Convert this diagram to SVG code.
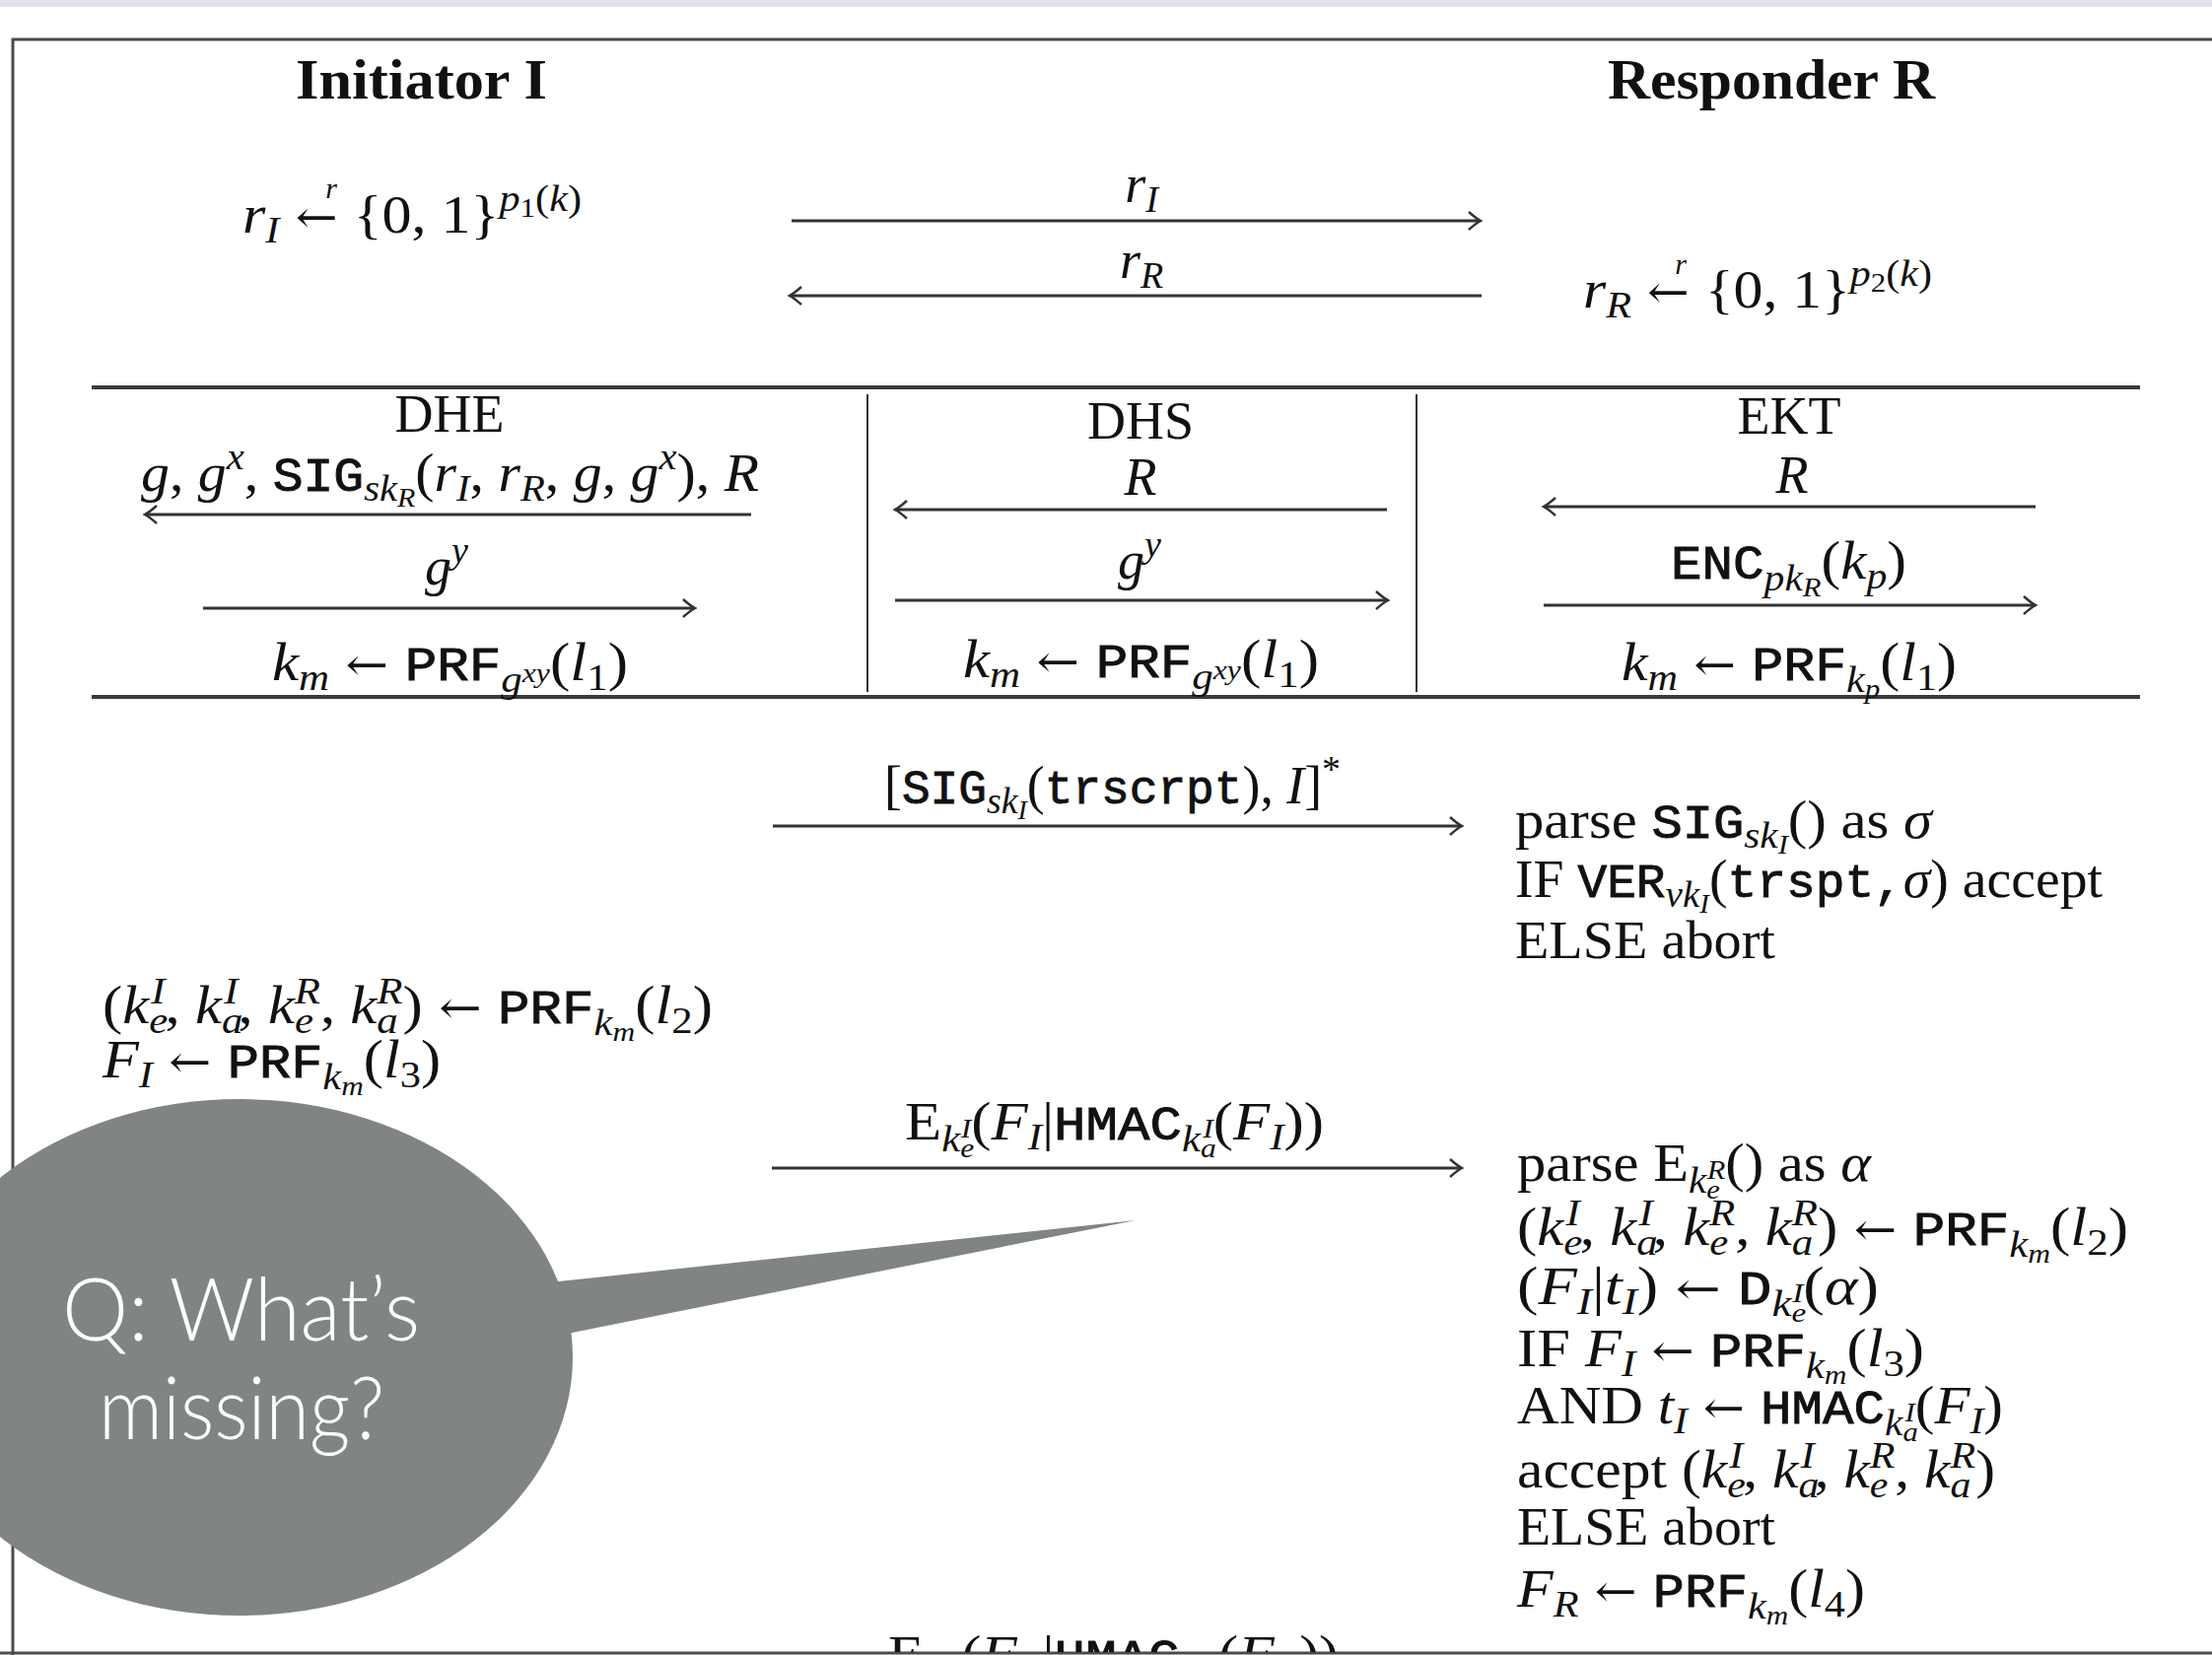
<svg xmlns="http://www.w3.org/2000/svg" width="2244" height="1679" viewBox="0 0 2244 1679">
<style>
.m{font-family:"Liberation Serif",serif;font-size:54px;fill:#111}
.i{font-style:italic}
.t{font-family:"Liberation Mono",monospace;font-size:48px;font-weight:normal;stroke:#111;stroke-width:0.9}
.w{font-family:"DejaVu Serif",serif;font-size:46px;font-style:normal}
.s{font-size:38px}
.ss{font-size:28px}
.h{font-family:"Liberation Serif",serif;font-weight:bold;font-size:56px;fill:#111}
.q{font-family:Lato,"Open Sans",sans-serif;font-weight:300;font-size:88px;fill:#fff}
.fr{stroke:#4a4a4a;stroke-width:3;fill:none}
.sec{stroke:#3a3a3a;stroke-width:4;fill:none}
.dv{stroke:#333;stroke-width:2;fill:none}
.ar{stroke:#333;stroke-width:3;fill:none}
.ra{marker-end:url(#ah)}
.la{marker-start:url(#ahs)}
</style>
<defs>
<marker id="ah" markerUnits="userSpaceOnUse" viewBox="-14 -10 16 20" refX="0" refY="0" markerWidth="16" markerHeight="20" orient="auto">
<path d="M-12,-9 Q-4,-2 0,0 Q-4,2 -12,9" fill="none" stroke="#333" stroke-width="2.5"/>
</marker>
<marker id="ahs" markerUnits="userSpaceOnUse" viewBox="-14 -10 16 20" refX="0" refY="0" markerWidth="16" markerHeight="20" orient="auto-start-reverse">
<path d="M-12,-9 Q-4,-2 0,0 Q-4,2 -12,9" fill="none" stroke="#333" stroke-width="2.5"/>
</marker>
<clipPath id="cb"><rect x="0" y="0" width="2244" height="1676"/></clipPath>
</defs>
<rect x="0" y="0" width="2244" height="1679" fill="#fff"/>
<rect x="0" y="0" width="2244" height="7" fill="#dfe3e8"/>
<g id="frame">
<path class="fr" d="M13,1679 V40 H2244"/>
<path class="fr" d="M0,1677 H2244"/>
<path class="sec" d="M93,393 H2171 M93,707 H2171"/>
<path class="dv" d="M880,400 V702 M1437,400 V702"/>
</g>
<g id="initiator"><text class="h" x="300" y="100" textLength="255" lengthAdjust="spacingAndGlyphs">Initiator I</text></g>
<g id="responder"><text class="h" x="1631" y="100" textLength="332" lengthAdjust="spacingAndGlyphs">Responder R</text></g>
<g id="init-nonce">
<text class="m" x="246" y="236" textLength="344" lengthAdjust="spacingAndGlyphs"><tspan class="i">r</tspan><tspan class="i s" dy="10">I</tspan><tspan class="w" dy="-10"> ← </tspan><tspan>{0, 1}</tspan><tspan class="i s" dy="-22">p</tspan><tspan class="ss" dy="6">1</tspan><tspan class="s" dy="-6">(</tspan><tspan class="i s">k</tspan><tspan class="s">)</tspan></text>
<text class="m i" x="336" y="201" style="font-size:30px" text-anchor="middle">r</text>
</g>
<g id="resp-nonce">
<text class="m" x="1606" y="312" textLength="354" lengthAdjust="spacingAndGlyphs"><tspan class="i">r</tspan><tspan class="i s" dy="10">R</tspan><tspan class="w" dy="-10"> ← </tspan><tspan>{0, 1}</tspan><tspan class="i s" dy="-22">p</tspan><tspan class="ss" dy="6">2</tspan><tspan class="s" dy="-6">(</tspan><tspan class="i s">k</tspan><tspan class="s">)</tspan></text>
<text class="m i" x="1705" y="278" style="font-size:30px" text-anchor="middle">r</text>
</g>
<g id="dhe">
<text class="m" x="456" y="438" text-anchor="middle">DHE</text>
<text class="m" x="143" y="498" textLength="627" lengthAdjust="spacingAndGlyphs"><tspan class="i">g</tspan>, <tspan class="i">g</tspan><tspan class="i s" dy="-22">x</tspan><tspan dy="22">, </tspan><tspan class="t">SIG</tspan><tspan class="i s" dy="10">sk</tspan><tspan class="i ss" dy="6">R</tspan><tspan dy="-16">(</tspan><tspan class="i">r</tspan><tspan class="i s" dy="10">I</tspan><tspan dy="-10">, </tspan><tspan class="i">r</tspan><tspan class="i s" dy="10">R</tspan><tspan dy="-10">, </tspan><tspan class="i">g</tspan>, <tspan class="i">g</tspan><tspan class="i s" dy="-22">x</tspan><tspan dy="22">), </tspan><tspan class="i">R</tspan></text>
<text class="m" x="453" y="593" text-anchor="middle"><tspan class="i">g</tspan><tspan class="i s" dy="-22">y</tspan></text>
<text class="m" x="276" y="690" textLength="361" lengthAdjust="spacingAndGlyphs"><tspan class="i">k</tspan><tspan class="i s" dy="10">m</tspan><tspan class="w" dy="-10"> ← </tspan><tspan class="t">PRF</tspan><tspan class="i s" dy="12">g</tspan><tspan class="i ss" dy="-10">xy</tspan><tspan dy="-2">(</tspan><tspan class="i">l</tspan><tspan class="s" dy="10">1</tspan><tspan dy="-10">)</tspan></text>
</g>
<g id="dhs">
<text class="m" x="1157" y="445" text-anchor="middle">DHS</text>
<text class="m i" x="1157" y="502" text-anchor="middle">R</text>
<text class="m" x="1156" y="587" text-anchor="middle"><tspan class="i">g</tspan><tspan class="i s" dy="-22">y</tspan></text>
<text class="m" x="977" y="687" textLength="361" lengthAdjust="spacingAndGlyphs"><tspan class="i">k</tspan><tspan class="i s" dy="10">m</tspan><tspan class="w" dy="-10"> ← </tspan><tspan class="t">PRF</tspan><tspan class="i s" dy="12">g</tspan><tspan class="i ss" dy="-10">xy</tspan><tspan dy="-2">(</tspan><tspan class="i">l</tspan><tspan class="s" dy="10">1</tspan><tspan dy="-10">)</tspan></text>
</g>
<g id="ekt">
<text class="m" x="1815" y="440" text-anchor="middle">EKT</text>
<text class="m i" x="1818" y="500" text-anchor="middle">R</text>
<text class="m" x="1695" y="587" textLength="239" lengthAdjust="spacingAndGlyphs"><tspan class="t">ENC</tspan><tspan class="i s" dy="12">pk</tspan><tspan class="i ss" dy="6">R</tspan><tspan dy="-18">(</tspan><tspan class="i">k</tspan><tspan class="i s" dy="10">p</tspan><tspan dy="-10">)</tspan></text>
<text class="m" x="1645" y="690" textLength="340" lengthAdjust="spacingAndGlyphs"><tspan class="i">k</tspan><tspan class="i s" dy="10">m</tspan><tspan class="w" dy="-10"> ← </tspan><tspan class="t">PRF</tspan><tspan class="i s" dy="12">k</tspan><tspan class="i ss" dy="6">p</tspan><tspan dy="-18">(</tspan><tspan class="i">l</tspan><tspan class="s" dy="10">1</tspan><tspan dy="-10">)</tspan></text>
</g>
<g id="labels">
<text class="m" x="1158" y="205" text-anchor="middle"><tspan class="i">r</tspan><tspan class="i s" dy="10">I</tspan></text>
<text class="m" x="1158" y="282" text-anchor="middle"><tspan class="i">r</tspan><tspan class="i s" dy="10">R</tspan></text>
<text class="m" x="897" y="815" textLength="463" lengthAdjust="spacingAndGlyphs">[<tspan class="t">SIG</tspan><tspan class="i s" dy="10">sk</tspan><tspan class="i ss" dy="6">I</tspan><tspan dy="-16">(</tspan><tspan class="t">trscrpt</tspan>), <tspan class="i">I</tspan>]<tspan class="s" dy="-22">*</tspan></text>
<text class="m" x="918" y="1156" textLength="425" lengthAdjust="spacingAndGlyphs">E<tspan class="i s" dy="12">k</tspan><tspan class="i ss" dy="6">e</tspan><tspan class="i ss" dx="-12" dy="-20">I</tspan><tspan dy="2">(</tspan><tspan class="i">F</tspan><tspan class="i s" dy="10">I</tspan><tspan dy="-10">|</tspan><tspan class="t">HMAC</tspan><tspan class="i s" dy="12">k</tspan><tspan class="i ss" dy="6">a</tspan><tspan class="i ss" dx="-12" dy="-20">I</tspan><tspan dy="2">(</tspan><tspan class="i">F</tspan><tspan class="i s" dy="10">I</tspan><tspan dy="-10">))</tspan></text>
<g clip-path="url(#cb)">
<text class="m" x="901" y="1697" textLength="457" lengthAdjust="spacingAndGlyphs">E<tspan class="i s" dy="12">k</tspan><tspan class="i ss" dy="6">e</tspan><tspan class="i ss" dx="-12" dy="-20">R</tspan><tspan dy="2">(</tspan><tspan class="i">F</tspan><tspan class="i s" dy="10">R</tspan><tspan dy="-10">|</tspan><tspan class="t">HMAC</tspan><tspan class="i s" dy="12">k</tspan><tspan class="i ss" dy="6">a</tspan><tspan class="i ss" dx="-12" dy="-20">R</tspan><tspan dy="2">(</tspan><tspan class="i">F</tspan><tspan class="i s" dy="10">R</tspan><tspan dy="-10">))</tspan></text>
</g>
</g>
<g id="resp-verify-sig">
<text class="m" x="1537" y="850" textLength="423" lengthAdjust="spacingAndGlyphs">parse <tspan class="t">SIG</tspan><tspan class="i s" dy="10">sk</tspan><tspan class="i ss" dy="6">I</tspan><tspan dy="-16">() as </tspan><tspan class="i">σ</tspan></text>
<text class="m" x="1537" y="910" textLength="596" lengthAdjust="spacingAndGlyphs">IF <tspan class="t">VER</tspan><tspan class="i s" dy="10">vk</tspan><tspan class="i ss" dy="6">I</tspan><tspan dy="-16">(</tspan><tspan class="t">trspt,</tspan><tspan class="i">σ</tspan>) accept</text>
<text class="m" x="1537" y="972" textLength="264" lengthAdjust="spacingAndGlyphs">ELSE abort</text>
</g>
<g id="init-keys">
<text class="m" x="104" y="1038" textLength="619" lengthAdjust="spacingAndGlyphs">(<tspan class="i">k</tspan><tspan class="i s" dy="10">e</tspan><tspan class="i s" dx="-15" dy="-30">I</tspan><tspan dy="20">, </tspan><tspan class="i">k</tspan><tspan class="i s" dy="10">a</tspan><tspan class="i s" dx="-17" dy="-30">I</tspan><tspan dy="20">, </tspan><tspan class="i">k</tspan><tspan class="i s" dy="10">e</tspan><tspan class="i s" dx="-17" dy="-30">R</tspan><tspan dy="20">, </tspan><tspan class="i">k</tspan><tspan class="i s" dy="10">a</tspan><tspan class="i s" dx="-19" dy="-30">R</tspan><tspan dy="20">)</tspan><tspan class="w"> ← </tspan><tspan class="t">PRF</tspan><tspan class="i s" dy="12">k</tspan><tspan class="i ss" dy="6">m</tspan><tspan dy="-18">(</tspan><tspan class="i">l</tspan><tspan class="s" dy="10">2</tspan><tspan dy="-10">)</tspan></text>
<text class="m" x="104" y="1093" textLength="343" lengthAdjust="spacingAndGlyphs"><tspan class="i">F</tspan><tspan class="i s" dy="10">I</tspan><tspan class="w" dy="-10"> ← </tspan><tspan class="t">PRF</tspan><tspan class="i s" dy="12">k</tspan><tspan class="i ss" dy="6">m</tspan><tspan dy="-18">(</tspan><tspan class="i">l</tspan><tspan class="s" dy="10">3</tspan><tspan dy="-10">)</tspan></text>
</g>
<g id="resp-verify-fin">
<text class="m" x="1539" y="1198" textLength="359" lengthAdjust="spacingAndGlyphs">parse E<tspan class="i s" dy="12">k</tspan><tspan class="i ss" dy="6">e</tspan><tspan class="i ss" dx="-12" dy="-20">R</tspan><tspan dy="2">() as </tspan><tspan class="i">α</tspan></text>
<text class="m" x="1539" y="1263" textLength="620" lengthAdjust="spacingAndGlyphs">(<tspan class="i">k</tspan><tspan class="i s" dy="10">e</tspan><tspan class="i s" dx="-15" dy="-30">I</tspan><tspan dy="20">, </tspan><tspan class="i">k</tspan><tspan class="i s" dy="10">a</tspan><tspan class="i s" dx="-17" dy="-30">I</tspan><tspan dy="20">, </tspan><tspan class="i">k</tspan><tspan class="i s" dy="10">e</tspan><tspan class="i s" dx="-17" dy="-30">R</tspan><tspan dy="20">, </tspan><tspan class="i">k</tspan><tspan class="i s" dy="10">a</tspan><tspan class="i s" dx="-19" dy="-30">R</tspan><tspan dy="20">)</tspan><tspan class="w"> ← </tspan><tspan class="t">PRF</tspan><tspan class="i s" dy="12">k</tspan><tspan class="i ss" dy="6">m</tspan><tspan dy="-18">(</tspan><tspan class="i">l</tspan><tspan class="s" dy="10">2</tspan><tspan dy="-10">)</tspan></text>
<text class="m" x="1539" y="1323" textLength="367" lengthAdjust="spacingAndGlyphs">(<tspan class="i">F</tspan><tspan class="i s" dy="10">I</tspan><tspan dy="-10">|</tspan><tspan class="i">t</tspan><tspan class="i s" dy="10">I</tspan><tspan dy="-10">)</tspan><tspan class="w"> ← </tspan><tspan class="t">D</tspan><tspan class="i s" dy="12">k</tspan><tspan class="i ss" dy="6">e</tspan><tspan class="i ss" dx="-12" dy="-20">I</tspan><tspan dy="2">(</tspan><tspan class="i">α</tspan>)</text>
<text class="m" x="1539" y="1386" textLength="413" lengthAdjust="spacingAndGlyphs">IF <tspan class="i">F</tspan><tspan class="i s" dy="10">I</tspan><tspan class="w" dy="-10"> ← </tspan><tspan class="t">PRF</tspan><tspan class="i s" dy="12">k</tspan><tspan class="i ss" dy="6">m</tspan><tspan dy="-18">(</tspan><tspan class="i">l</tspan><tspan class="s" dy="10">3</tspan><tspan dy="-10">)</tspan></text>
<text class="m" x="1539" y="1444" textLength="493" lengthAdjust="spacingAndGlyphs">AND <tspan class="i">t</tspan><tspan class="i s" dy="10">I</tspan><tspan class="w" dy="-10"> ← </tspan><tspan class="t">HMAC</tspan><tspan class="i s" dy="12">k</tspan><tspan class="i ss" dy="6">a</tspan><tspan class="i ss" dx="-12" dy="-20">I</tspan><tspan dy="2">(</tspan><tspan class="i">F</tspan><tspan class="i s" dy="10">I</tspan><tspan dy="-10">)</tspan></text>
<text class="m" x="1539" y="1509" textLength="485" lengthAdjust="spacingAndGlyphs">accept (<tspan class="i">k</tspan><tspan class="i s" dy="10">e</tspan><tspan class="i s" dx="-15" dy="-30">I</tspan><tspan dy="20">, </tspan><tspan class="i">k</tspan><tspan class="i s" dy="10">a</tspan><tspan class="i s" dx="-17" dy="-30">I</tspan><tspan dy="20">, </tspan><tspan class="i">k</tspan><tspan class="i s" dy="10">e</tspan><tspan class="i s" dx="-17" dy="-30">R</tspan><tspan dy="20">, </tspan><tspan class="i">k</tspan><tspan class="i s" dy="10">a</tspan><tspan class="i s" dx="-19" dy="-30">R</tspan><tspan dy="20">)</tspan></text>
<text class="m" x="1539" y="1567" textLength="262" lengthAdjust="spacingAndGlyphs">ELSE abort</text>
<text class="m" x="1539" y="1630" textLength="353" lengthAdjust="spacingAndGlyphs"><tspan class="i">F</tspan><tspan class="i s" dy="10">R</tspan><tspan class="w" dy="-10"> ← </tspan><tspan class="t">PRF</tspan><tspan class="i s" dy="12">k</tspan><tspan class="i ss" dy="6">m</tspan><tspan dy="-18">(</tspan><tspan class="i">l</tspan><tspan class="s" dy="10">4</tspan><tspan dy="-10">)</tspan></text>
</g>
<g id="connectors">
<path class="ar ra" d="M803,224 H1502"/>
<path class="ar la" d="M801,300 H1503"/>
<path class="ar la" d="M147,522 H762"/>
<path class="ar ra" d="M206,617 H705"/>
<path class="ar la" d="M908,517 H1407"/>
<path class="ar ra" d="M908,609 H1408"/>
<path class="ar la" d="M1566,514 H2065"/>
<path class="ar ra" d="M1566,614 H2065"/>
<path class="ar ra" d="M784,838 H1483"/>
<path class="ar ra" d="M783,1185 H1483"/>
</g>
<g id="callout">
<ellipse cx="243" cy="1377" rx="338" ry="262" fill="#808583"/>
<polygon points="500,1307 1152,1238 500,1368" fill="#808583"/>
<text class="q" x="63" y="1360" textLength="363" lengthAdjust="spacingAndGlyphs">Q: What’s</text>
<text class="q" x="100" y="1460" textLength="290" lengthAdjust="spacingAndGlyphs">missing?</text>
</g>
</svg>
